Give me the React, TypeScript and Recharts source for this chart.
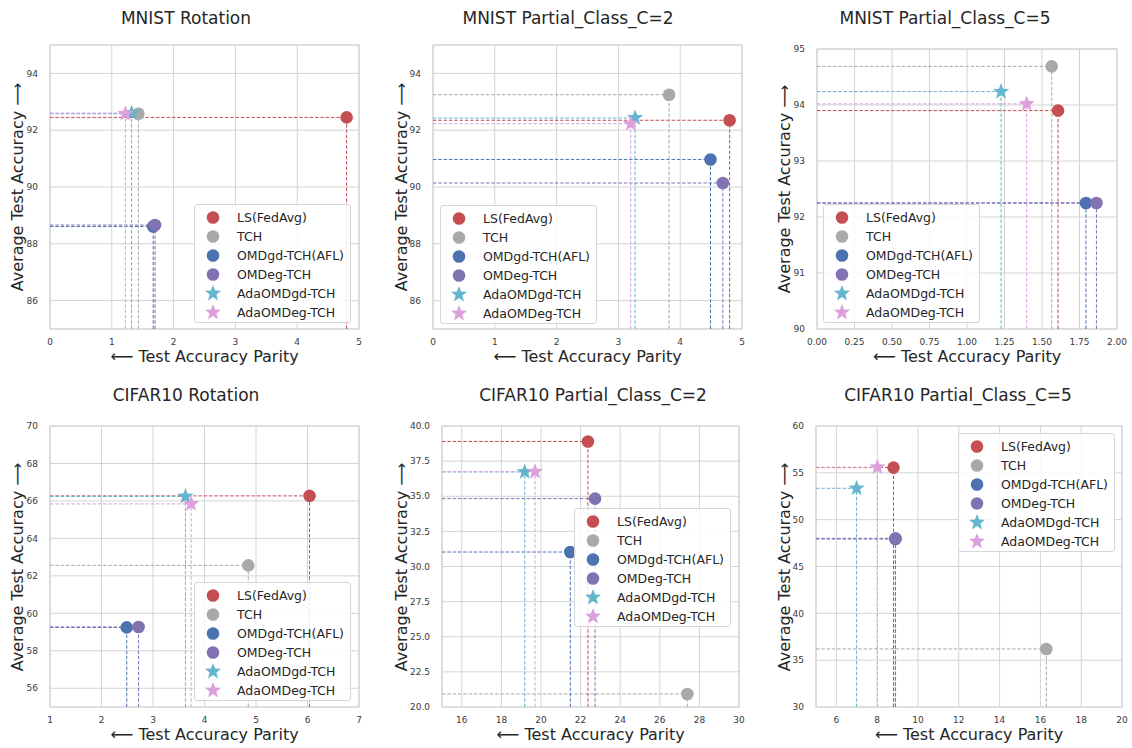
import React from 'react';
import {
  ScatterChart,
  Scatter,
  XAxis,
  YAxis,
  CartesianGrid,
  ReferenceLine,
  ReferenceArea
} from 'recharts';

// series shared by every panel
const seriesNames = ['LS(FedAvg)', 'TCH', 'OMDgd-TCH(AFL)', 'OMDeg-TCH', 'AdaOMDgd-TCH', 'AdaOMDeg-TCH'];
const seriesColors = ['#C44E52', '#A9A9A9', '#4C72B0', '#8172B2', '#64B5CD', '#DDA0DD'];
const seriesMarkers = ['circle', 'circle', 'circle', 'circle', 'star', 'star'];

// MNIST Rotation
const mnistRotParity = [4.8, 1.43, 1.67, 1.7, 1.32, 1.22];
const mnistRotAcc = [92.45, 92.58, 88.61, 88.66, 92.6, 92.58];
// MNIST Partial_Class_C=2
const mnistC2Parity = [4.8, 3.82, 4.49, 4.69, 3.27, 3.2];
const mnistC2Acc = [92.35, 93.25, 90.97, 90.14, 92.43, 92.23];
// MNIST Partial_Class_C=5
const mnistC5Parity = [1.607, 1.565, 1.793, 1.863, 1.227, 1.398];
const mnistC5Acc = [93.9, 94.69, 92.25, 92.25, 94.24, 94.02];
// CIFAR10 Rotation
const cifarRotParity = [6.04, 4.85, 2.49, 2.72, 3.63, 3.74];
const cifarRotAcc = [66.27, 62.56, 59.25, 59.27, 66.24, 65.84];
// CIFAR10 Partial_Class_C=2
const cifarC2Parity = [22.37, 27.39, 21.48, 22.73, 19.18, 19.7];
const cifarC2Acc = [38.9, 20.93, 31.03, 34.83, 36.73, 36.75];
// CIFAR10 Partial_Class_C=5
const cifarC5Parity = [8.8, 16.29, 8.89, 8.9, 6.99, 8.01];
const cifarC5Acc = [55.56, 36.2, 47.94, 48.0, 53.35, 55.6];

const panelTitles = [
  'MNIST Rotation',
  'MNIST Partial_Class_C=2',
  'MNIST Partial_Class_C=5',
  'CIFAR10 Rotation',
  'CIFAR10 Partial_Class_C=2',
  'CIFAR10 Partial_Class_C=5'
];
const panelParity = [mnistRotParity, mnistC2Parity, mnistC5Parity, cifarRotParity, cifarC2Parity, cifarC5Parity];
const panelAcc = [mnistRotAcc, mnistC2Acc, mnistC5Acc, cifarRotAcc, cifarC2Acc, cifarC5Acc];

const xDomains = [[0, 5], [0, 5], [0, 2], [1, 7], [15, 30], [5, 20]];
const yDomains = [[85, 95], [85, 95], [90, 95], [55, 70], [20, 40], [30, 60]];
const xTicks = [
  [0, 1, 2, 3, 4, 5],
  [0, 1, 2, 3, 4, 5],
  [0, 0.25, 0.5, 0.75, 1, 1.25, 1.5, 1.75, 2],
  [1, 2, 3, 4, 5, 6, 7],
  [16, 18, 20, 22, 24, 26, 28, 30],
  [6, 8, 10, 12, 14, 16, 18, 20]
];
const yTicks = [
  [86, 88, 90, 92, 94],
  [86, 88, 90, 92, 94],
  [90, 91, 92, 93, 94, 95],
  [56, 58, 60, 62, 64, 66, 68, 70],
  [20, 22.5, 25, 27.5, 30, 32.5, 35, 37.5, 40],
  [30, 35, 40, 45, 50, 55, 60]
];
const xDecimals = [0, 0, 2, 0, 0, 0];
const yDecimals = [0, 0, 0, 0, 1, 0];

// layout: plot rectangles, title centres, legend corners
const plotRects = [
  { left: 50, top: 45, width: 309, height: 284 },
  { left: 433, top: 45, width: 309, height: 284 },
  { left: 817, top: 49, width: 300, height: 280 },
  { left: 50, top: 426, width: 309, height: 281 },
  { left: 442, top: 426, width: 297, height: 281 },
  { left: 816, top: 426, width: 306, height: 281 }
];
const titleCenters = [186, 568, 945, 186, 593, 958];
const ylabelCenters = [18, 402, 785, 18, 402, 785];
const legendPos = [
  { left: 194, top: 204 },
  { left: 440, top: 205 },
  { left: 823, top: 204 },
  { left: 194, top: 582 },
  { left: 574, top: 508 },
  { left: 958, top: 433 }
];

const FONT = '"DejaVu Sans", Verdana, sans-serif';
const GRID = '#d4d4d4';

const starPoints = (cx: number, cy: number, R: number) => {
  const r = R * 0.42;
  const pts: string[] = [];
  for (let i = 0; i < 10; i++) {
    const rad = i % 2 === 0 ? R : r;
    const a = -Math.PI / 2 + (i * Math.PI) / 5;
    pts.push(`${cx + rad * Math.cos(a)},${cy + rad * Math.sin(a)}`);
  }
  return pts.join(' ');
};

const Marker = ({ cx, cy, color, kind }: any) => {
  if (cx == null || cy == null) return null;
  if (kind === 'star') {
    return <polygon points={starPoints(cx, cy, 8.5)} fill={color} />;
  }
  return <circle cx={cx} cy={cy} r={6.3} fill={color} />;
};

const LegendBox = ({ left, top }: { left: number; top: number }) => (
  <div
    style={{
      position: 'absolute',
      left,
      top,
      width: 157,
      height: 119,
      boxSizing: 'border-box',
      border: '1px solid #d6d6d6',
      borderRadius: 3,
      background: 'rgba(255,255,255,0.85)',
      fontFamily: FONT,
      fontSize: 12.5,
      color: '#262626'
    }}
  >
    {seriesNames.map((name, i) => (
      <div key={name} style={{ position: 'absolute', left: 0, top: 3 + i * 19, height: 19, display: 'flex', alignItems: 'center' }}>
        <svg width={36} height={19} style={{ display: 'block' }}>
          <Marker cx={18} cy={9.5} color={seriesColors[i]} kind={seriesMarkers[i]} />
        </svg>
        <span style={{ marginLeft: 6, whiteSpace: 'nowrap' }}>{name}</span>
      </div>
    ))}
  </div>
);

const Panel = ({ idx }: { idx: number }) => {
  const rect = plotRects[idx];
  const [xmin, xmax] = xDomains[idx];
  const [ymin, ymax] = yDomains[idx];
  const xs = panelParity[idx];
  const ys = panelAcc[idx];
  const ml = 60;
  const mt = 10;
  return (
    <div>
      <div
        style={{
          position: 'absolute',
          left: titleCenters[idx] - 200,
          width: 400,
          top: rect.top - (idx < 3 ? (idx === 2 ? 41 : 37) : 41),
          textAlign: 'center',
          fontFamily: FONT,
          fontSize: 17,
          color: '#262626',
          whiteSpace: 'nowrap'
        }}
      >
        {panelTitles[idx]}
      </div>
      <div style={{ position: 'absolute', left: rect.left - ml, top: rect.top - mt }}>
        <ScatterChart
          width={rect.width + ml + 12}
          height={rect.height + mt + 22}
          margin={{ top: mt, right: 12, left: 0, bottom: 0 }}
        >
          <CartesianGrid stroke={GRID} strokeWidth={1} />
          <XAxis
            type="number"
            dataKey="x"
            domain={[xmin, xmax]}
            ticks={xTicks[idx]}
            allowDataOverflow
            axisLine={false}
            tickLine={false}
            height={22}
            tickMargin={4}
            tick={{ fill: '#3a3a3a', fontSize: 9, fontFamily: FONT }}
            tickFormatter={(v: number) => v.toFixed(xDecimals[idx])}
          />
          <YAxis
            type="number"
            dataKey="y"
            domain={[ymin, ymax]}
            ticks={yTicks[idx]}
            allowDataOverflow
            axisLine={false}
            tickLine={false}
            width={ml}
            tickMargin={6}
            tick={{ fill: '#3a3a3a', fontSize: 9, fontFamily: FONT }}
            tickFormatter={(v: number) => v.toFixed(yDecimals[idx])}
          />
          <ReferenceArea x1={xmin} x2={xmax} y1={ymin} y2={ymax} fill="none" stroke={GRID} strokeWidth={1.2} />
          {xs.map((x, i) => (
            <ReferenceLine
              key={`h${i}`}
              segment={[{ x: xmin, y: ys[i] }, { x, y: ys[i] }]}
              stroke={seriesColors[i]}
              strokeWidth={1}
              strokeDasharray="3.5 1.8"
            />
          ))}
          {xs.map((x, i) => (
            <ReferenceLine
              key={`v${i}`}
              segment={[{ x, y: ymin }, { x, y: ys[i] }]}
              stroke={seriesColors[i]}
              strokeWidth={1}
              strokeDasharray="3.5 1.8"
            />
          ))}
          {xs.map((x, i) => (
            <Scatter
              key={seriesNames[i]}
              name={seriesNames[i]}
              data={[{ x, y: ys[i] }]}
              isAnimationActive={false}
              shape={(p: any) => <Marker cx={p.cx} cy={p.cy} color={seriesColors[i]} kind={seriesMarkers[i]} />}
            />
          ))}
        </ScatterChart>
      </div>
      <div
        style={{
          position: 'absolute',
          left: ylabelCenters[idx] - 150,
          top: rect.top + rect.height / 2 - 10,
          width: 300,
          height: 20,
          lineHeight: '20px',
          textAlign: 'center',
          transform: 'rotate(-90deg)',
          fontFamily: FONT,
          fontSize: 16,
          color: '#262626',
          whiteSpace: 'nowrap'
        }}
      >
        Average Test Accuracy ⟶
      </div>
      <div
        style={{
          position: 'absolute',
          left: rect.left + rect.width / 2 - 150,
          top: rect.top + rect.height + 18,
          width: 300,
          height: 20,
          lineHeight: '20px',
          textAlign: 'center',
          fontFamily: FONT,
          fontSize: 16,
          color: '#262626',
          whiteSpace: 'nowrap'
        }}
      >
        ⟵ Test Accuracy Parity
      </div>
      <LegendBox left={legendPos[idx].left} top={legendPos[idx].top} />
    </div>
  );
};

export default function App() {
  return (
    <div style={{ position: 'absolute', left: 0, top: 0, width: 1132, height: 748, background: '#fff', overflow: 'hidden' }}>
      {panelTitles.map((t, i) => (
        <Panel key={t} idx={i} />
      ))}
    </div>
  );
}
